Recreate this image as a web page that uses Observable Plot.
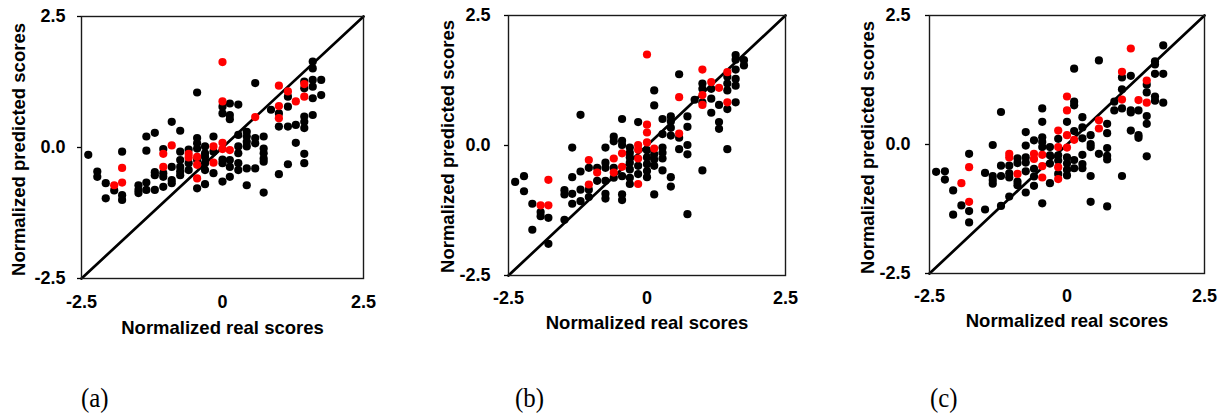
<!DOCTYPE html>
<html><head><meta charset="utf-8">
<script src="https://cdn.jsdelivr.net/npm/d3@7"></script>
<script src="https://cdn.jsdelivr.net/npm/@observablehq/plot@0.6"></script>
<style>
html,body{margin:0;padding:0;background:#fff;}
#root{position:relative;width:1226px;height:418px;overflow:hidden;font-family:"Liberation Sans",Arial,sans-serif;}
.panel{position:absolute;top:0;}
.cap{position:absolute;font-family:"Liberation Serif","Times New Roman",serif;font-size:27px;line-height:1;color:#000;transform:scaleX(0.92);transform-origin:left top;}
</style></head><body><div id="root"></div>
<script>
const domain = [-2.5, 2.5];
const xTicks = [-2.5, 0, 2.5];
const yTicks = [-2.5, 0, 2.5];
const xTitle = "Normalized real scores";
const yTitle = "Normalized predicted scores";
const captions = ["(a)", "(b)", "(c)"];
const diagonal = [[-2.5, -2.5], [2.5, 2.5]];

const blackA = [
[-2.38,-0.14],[-2.22,-0.46],[-2.22,-0.56],[-2.07,-0.68],[-2.07,-0.97],[-1.92,-0.82],
[-1.78,-0.08],[-1.78,-0.91],[-1.78,-1.00],[-1.49,-0.72],[-1.49,-0.81],[-1.49,-0.87],
[-1.35,0.21],[-1.35,-0.06],[-1.35,-0.67],[-1.35,-0.81],[-1.2,0.28],[-1.2,-0.47],[-1.2,-0.53],[-1.2,-0.81],
[-1.05,-0.03],[-1.05,-0.49],[-1.05,-0.56],[-1.05,-0.75],[-0.9,0.49],[-0.9,-0.37],[-0.9,-0.62],[-0.9,-0.68],
[-0.75,0.32],[-0.75,-0.08],[-0.75,-0.24],[-0.75,-0.37],[-0.75,-0.46],[-0.75,-0.53],
[-0.6,-0.04],[-0.6,-0.30],[-0.6,-0.43],
[-0.45,1.05],[-0.45,0.18],[-0.45,0.08],[-0.45,-0.02],[-0.45,-0.24],[-0.45,-0.78],
[-0.31,0.02],[-0.31,-0.11],[-0.31,-0.18],[-0.31,-0.30],[-0.31,-0.43],[-0.31,-0.70],
[-0.16,0.21],[-0.16,-0.08],[-0.16,-0.49],
[0,0.78],[0,0.65],[0,-0.23],[0,-0.30],[0,-0.65],
[0.13,0.84],[0.13,0.62],[0.13,0.54],[0.13,-0.24],[0.13,-0.37],[0.13,-0.56],
[0.28,0.82],[0.28,0.24],[0.28,0.02],[0.28,-0.11],[0.28,-0.30],[0.28,-0.43],
[0.43,0.30],[0.43,0.21],[0.43,0.11],[0.43,0.02],[0.43,-0.40],[0.43,-0.72],
[0.58,1.23],[0.58,0.18],[0.58,0.08],[0.58,-0.40],
[0.73,0.21],[0.73,-0.02],[0.73,-0.11],[0.73,-0.21],[0.73,-0.27],[0.73,-0.86],
[0.86,0.72],[1.0,0.65],[1.0,0.40],[1.0,-0.51],
[1.16,0.97],[1.16,0.78],[1.16,0.40],[1.16,-0.32],[1.3,0.43],[1.3,0.09],
[1.45,1.26],[1.45,1.13],[1.45,0.59],[1.45,0.49],[1.45,0.37],[1.45,-0.12],[1.45,-0.30],
[1.6,1.64],[1.6,1.51],[1.6,1.29],[1.6,1.16],[1.6,0.94],[1.6,0.62],[1.75,1.29],[1.75,1.00]
];
const redA = [
[-1.92,-0.72],[-1.78,-0.39],[-1.78,-0.67],[-1.05,-0.12],[-1.05,-0.37],[-0.9,0.04],[-0.6,-0.12],[-0.6,-0.19],
[-0.45,-0.18],[-0.45,-0.33],[-0.45,-0.59],[-0.16,0.02],[-0.16,-0.29],[0,1.63],[0,0.88],[0,0.09],[0,-0.03],
[0.13,-0.05],[0.58,0.58],[1.0,1.18],[1.0,0.79],[1.0,0.56],[1.16,1.07],[1.3,0.88],[1.45,1.21],[1.45,0.97]
];

const blackB = [
[-2.38,-0.70],[-2.22,-0.59],[-2.22,-0.88],[-2.07,-1.12],[-2.07,-1.62],[-1.92,-1.28],[-1.92,-1.36],[-1.78,-1.39],[-1.78,-1.89],
[-1.49,-0.86],[-1.49,-0.94],[-1.49,-1.43],[-1.35,-0.04],[-1.35,-0.61],[-1.35,-0.93],[-1.35,-1.12],
[-1.2,0.59],[-1.2,-0.50],[-1.2,-0.85],[-1.2,-1.07],[-1.05,-0.43],[-1.05,-0.85],[-1.05,-0.99],
[-0.9,-0.43],[-0.9,-0.68],[-0.75,-0.04],[-0.75,-0.33],[-0.75,-0.43],[-0.75,-0.68],[-0.75,-0.93],[-0.75,-1.02],
[-0.6,0.17],[-0.6,0.08],[-0.6,-0.43],[-0.6,-0.62],
[-0.45,0.51],[-0.45,0.09],[-0.45,0.01],[-0.45,-0.59],[-0.45,-0.94],[-0.45,-1.05],
[-0.31,-0.04],[-0.31,-0.14],[-0.31,-0.23],[-0.31,-0.33],[-0.31,-0.46],[-0.31,-0.62],[-0.31,-0.74],
[-0.16,0.45],[-0.16,-0.39],[-0.16,-0.55],
[0,-0.09],[0,-0.23],[0,-0.36],[0,-0.49],[0,-0.61],
[0.13,1.06],[0.13,0.77],[0.13,-0.17],[0.13,-0.27],[0.13,-0.39],[0.13,-0.94],
[0.28,0.51],[0.28,0.22],[0.28,-0.04],[0.28,-0.14],[0.28,-0.25],[0.28,-0.48],
[0.43,0.56],[0.43,0.46],[0.43,0.34],[0.43,0.19],[0.43,-0.61],[0.43,-0.79],
[0.58,1.37],[0.58,0.15],[0.58,-0.07],
[0.73,0.56],[0.73,0.36],[0.73,0.01],[0.73,-0.17],[0.73,-1.32],
[0.86,0.88],[1.0,1.19],[1.0,1.09],[1.0,0.83],[1.0,-0.48],
[1.16,1.09],[1.16,0.90],[1.16,0.63],[1.3,0.78],[1.3,0.45],[1.3,0.32],
[1.45,1.32],[1.45,1.19],[1.45,1.06],[1.45,0.70],[1.45,-0.07],
[1.6,1.74],[1.6,1.65],[1.6,1.46],[1.6,1.28],[1.6,1.15],[1.6,0.83],[1.75,1.64],[1.75,1.54]
];
const redB = [
[-1.92,-1.15],[-1.78,-0.66],[-1.78,-1.15],[-1.05,-0.28],[-1.05,-0.75],[-0.9,-0.52],[-0.6,-0.25],[-0.6,-0.52],
[-0.45,-0.15],[-0.45,-0.41],[-0.16,0.01],[-0.16,-0.08],[-0.16,-0.25],[-0.16,-0.74],[0,1.75],[0,0.40],[0,0.25],[0,0.06],
[0.13,-0.06],[0.58,0.93],[0.58,0.23],[1.0,1.46],[1.0,0.97],[1.0,0.78],[1.16,1.22],[1.3,1.11],[1.45,1.41],[1.45,0.83]
];

const blackC = [
[-2.38,-0.53],[-2.22,-0.52],[-2.22,-0.68],[-2.07,-0.89],[-2.07,-1.36],[-1.92,-1.18],
[-1.78,-0.18],[-1.78,-1.29],[-1.78,-1.51],[-1.49,-0.55],[-1.49,-1.26],
[-1.35,-0.01],[-1.35,-0.61],[-1.35,-0.69],[-1.35,-0.76],[-1.2,0.63],[-1.2,-0.41],[-1.2,-0.61],[-1.2,-1.19],
[-1.05,-0.41],[-1.05,-0.56],[-1.05,-0.64],[-1.05,-1.01],[-0.9,-0.27],[-0.9,-0.36],[-0.9,-0.72],[-0.9,-0.79],
[-0.75,0.24],[-0.75,-0.02],[-0.75,-0.25],[-0.75,-0.35],[-0.75,-0.52],[-0.75,-0.93],
[-0.6,0.08],[-0.6,-0.47],[-0.6,-0.62],[-0.6,-0.80],
[-0.45,0.70],[-0.45,0.44],[-0.45,0.14],[-0.45,0.05],[-0.45,-0.05],[-0.45,-1.14],
[-0.31,-0.05],[-0.31,-0.21],[-0.31,-0.37],[-0.31,-0.75],
[-0.16,0.11],[-0.16,-0.21],[-0.16,-0.31],[-0.16,-0.57],
[0,0.44],[0,-0.25],[0,-0.37],[0,-0.49],[0,-0.60],
[0.13,1.47],[0.13,0.83],[0.13,0.76],[0.13,0.26],[0.13,-0.30],[0.13,-0.46],
[0.28,0.53],[0.28,0.33],[0.28,0.12],[0.28,-0.20],[0.28,-0.38],[0.28,-0.46],
[0.43,0.18],[0.43,0.01],[0.43,-0.05],[0.43,-0.61],[0.43,-1.11],
[0.58,1.63],[0.58,-0.18],
[0.73,0.40],[0.73,0.22],[0.73,-0.07],[0.73,-0.22],[0.73,-0.29],[0.73,-1.20],
[0.86,0.83],[0.86,0.66],[1.0,1.30],[1.0,1.07],[1.0,0.70],[1.0,-0.61],
[1.16,1.33],[1.16,0.66],[1.16,0.62],[1.16,0.27],[1.3,0.66],[1.3,0.18],[1.3,0.13],
[1.45,1.16],[1.45,1.01],[1.45,0.55],[1.45,0.40],[1.45,-0.23],
[1.6,1.61],[1.6,1.55],[1.6,1.37],[1.6,0.93],[1.6,0.85],[1.75,1.92],[1.75,1.37],[1.75,0.81]
];
const redC = [
[-1.92,-0.75],[-1.78,-0.44],[-1.78,-1.11],[-1.05,-0.18],[-1.05,-0.25],[-0.9,-0.57],[-0.6,-0.18],[-0.6,-0.28],
[-0.45,-0.20],[-0.45,-0.42],[-0.45,-0.64],[-0.16,0.27],[-0.16,-0.05],[-0.16,-0.44],[-0.16,-0.67],
[0,0.93],[0,0.66],[0,0.18],[0,-0.06],[0.13,0.09],[0.58,0.47],[0.58,0.31],
[1.0,1.41],[1.0,0.87],[1.16,1.86],[1.3,0.86],[1.45,1.24],[1.45,0.81]
];

const panels = [
  {black: blackA, red: redA, left: 0,   width: 400, m: {top: 16, right: 37, bottom: 67, left: 81}, yPad: 12, xPad: 17, yTitleDx: -62.5, yTitleDy: 2, xTitleDy: 49.5, capLeft: 81},
  {black: blackB, red: redB, left: 430, width: 380, m: {top: 15, right: 25, bottom: 70, left: 78}, yPad: 14, xPad: 15.5, yTitleDx: -60, yTitleDy: 1, xTitleDy: 47.5, capLeft: 515},
  {black: blackC, red: redC, left: 850, width: 376, m: {top: 15, right: 22, bottom: 72, left: 79}, yPad: 15, xPad: 15.5, yTitleDx: -61, yTitleDy: 3, xTitleDy: 47.7, capLeft: 930}
];

const root = document.getElementById("root");
const fmtX = d => d === 0 ? "0" : d.toFixed(1);
const fmtY = d => d.toFixed(1);

panels.forEach((p, i) => {
  const chart = Plot.plot({
    width: p.width,
    height: 345,
    marginTop: p.m.top, marginRight: p.m.right, marginBottom: p.m.bottom, marginLeft: p.m.left,
    style: {fontFamily: "'Liberation Sans', Arial, sans-serif", fontSize: "18px", fontWeight: "bold", color: "#000", background: "transparent"},
    x: {domain, nice: false},
    y: {domain, nice: false},
    marks: [
      Plot.line(diagonal, {x: d => d[0], y: d => d[1], stroke: "#000", strokeWidth: 2.7}),
      Plot.dot(p.black, {x: d => d[0], y: d => d[1], r: 4.1, fill: "#000", stroke: "none"}),
      Plot.dot(p.red, {x: d => d[0], y: d => d[1], r: 4.1, fill: "#ff0000", stroke: "none"}),
      Plot.frame({stroke: "#1a1a1a", strokeWidth: 1.4}),
      Plot.axisX({ticks: xTicks, tickFormat: fmtX, tickSize: 0, tickPadding: p.xPad, label: null, fontSize: 18, fontWeight: "bold"}),
      Plot.axisY({ticks: yTicks, tickFormat: fmtY, tickSize: 4, tickPadding: p.yPad, label: null, fontSize: 18, fontWeight: "bold", strokeWidth: 1.3}),
      Plot.text([yTitle], {text: d => d, frameAnchor: "left", rotate: -90, dx: p.yTitleDx, dy: p.yTitleDy, textAnchor: "middle", lineAnchor: "middle", fontSize: 18.5, fontWeight: "bold", fill: "#000"}),
      Plot.text([xTitle], {text: d => d, frameAnchor: "bottom", dy: p.xTitleDy, textAnchor: "middle", lineAnchor: "middle", fontSize: 18.5, fontWeight: "bold", fill: "#000"})
    ]
  });
  const wrap = document.createElement("div");
  wrap.className = "panel";
  wrap.style.left = p.left + "px";
  wrap.appendChild(chart);
  root.appendChild(wrap);
  const cap = document.createElement("div");
  cap.className = "cap";
  cap.textContent = captions[i];
  cap.style.left = p.capLeft + "px";
  cap.style.top = "385px";
  root.appendChild(cap);
});
</script></body></html>
